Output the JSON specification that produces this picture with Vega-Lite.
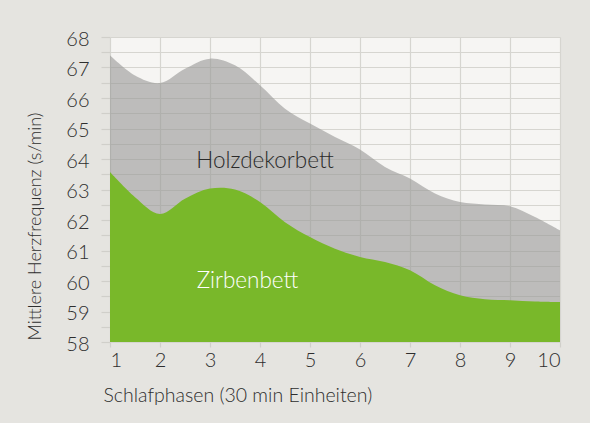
{
  "$schema": "https://vega.github.io/schema/vega-lite/v6.json",
  "autosize": {"type": "none"},
  "padding": {"left": 110, "top": 37, "right": 30, "bottom": 81},
  "width": 450,
  "height": 305,
  "background": "#e5e4e0",
  "config": {
    "view": {"fill": "#f6f5f3", "stroke": null},
    "font": "Lato",
    "axis": {
      "labelFont": "Lato", "labelFontWeight": 300, "labelColor": "#2e2e2e",
      "titleFont": "Lato", "titleFontWeight": 300, "titleColor": "#2e2e2e",
      "gridColor": "#d6d5d0", "gridOpacity": 1, "gridWidth": 1.2,
      "tickColor": "#d0cfca", "tickWidth": 1.2,
      "domain": false
    }
  },
  "datasets": {
    "hf": [
      {"phase": 1, "bett": "Holzdekorbett", "hf": 67.4},
      {"phase": 1.5, "bett": "Holzdekorbett", "hf": 66.74},
      {"phase": 2, "bett": "Holzdekorbett", "hf": 66.49},
      {"phase": 2.5, "bett": "Holzdekorbett", "hf": 66.96},
      {"phase": 3, "bett": "Holzdekorbett", "hf": 67.29},
      {"phase": 3.5, "bett": "Holzdekorbett", "hf": 67.07},
      {"phase": 4, "bett": "Holzdekorbett", "hf": 66.42},
      {"phase": 4.5, "bett": "Holzdekorbett", "hf": 65.65},
      {"phase": 5, "bett": "Holzdekorbett", "hf": 65.16},
      {"phase": 5.5, "bett": "Holzdekorbett", "hf": 64.72},
      {"phase": 6, "bett": "Holzdekorbett", "hf": 64.31},
      {"phase": 6.5, "bett": "Holzdekorbett", "hf": 63.74},
      {"phase": 7, "bett": "Holzdekorbett", "hf": 63.36},
      {"phase": 7.5, "bett": "Holzdekorbett", "hf": 62.87},
      {"phase": 8, "bett": "Holzdekorbett", "hf": 62.59},
      {"phase": 8.5, "bett": "Holzdekorbett", "hf": 62.51},
      {"phase": 9, "bett": "Holzdekorbett", "hf": 62.45},
      {"phase": 9.5, "bett": "Holzdekorbett", "hf": 62.1},
      {"phase": 10, "bett": "Holzdekorbett", "hf": 61.66},
      {"phase": 1, "bett": "Zirbenbett", "hf": 63.57},
      {"phase": 1.5, "bett": "Zirbenbett", "hf": 62.75},
      {"phase": 2, "bett": "Zirbenbett", "hf": 62.2},
      {"phase": 2.5, "bett": "Zirbenbett", "hf": 62.7},
      {"phase": 3, "bett": "Zirbenbett", "hf": 63.03},
      {"phase": 3.5, "bett": "Zirbenbett", "hf": 63.0},
      {"phase": 4, "bett": "Zirbenbett", "hf": 62.59},
      {"phase": 4.5, "bett": "Zirbenbett", "hf": 61.93},
      {"phase": 5, "bett": "Zirbenbett", "hf": 61.44},
      {"phase": 5.5, "bett": "Zirbenbett", "hf": 61.06},
      {"phase": 6, "bett": "Zirbenbett", "hf": 60.79},
      {"phase": 6.5, "bett": "Zirbenbett", "hf": 60.62},
      {"phase": 7, "bett": "Zirbenbett", "hf": 60.35},
      {"phase": 7.5, "bett": "Zirbenbett", "hf": 59.86},
      {"phase": 8, "bett": "Zirbenbett", "hf": 59.53},
      {"phase": 8.5, "bett": "Zirbenbett", "hf": 59.4},
      {"phase": 9, "bett": "Zirbenbett", "hf": 59.37},
      {"phase": 9.5, "bett": "Zirbenbett", "hf": 59.33},
      {"phase": 10, "bett": "Zirbenbett", "hf": 59.31}
    ],
    "labels": [
      {"phase": 4.1, "hf": 63.92, "name": "Holzdekorbett", "kind": "dark"},
      {"phase": 3.75, "hf": 59.99, "name": "Zirbenbett", "kind": "light"}
    ]
  },
  "encoding": {
    "x": {
      "field": "phase", "type": "quantitative",
      "scale": {"domain": [1, 10], "nice": false},
      "axis": {
        "values": [1, 2, 3, 4, 5, 6, 7, 8, 9, 10],
        "title": "Schlafphasen (30 min Einheiten)",
        "labelFontSize": 20, "labelPadding": 3, "tickSize": 5,
        "titleFontSize": 19.5, "titleAnchor": "start", "titleAlign": "left",
        "titleX": -7, "titleY": 59, "titleBaseline": "alphabetic"
      }
    },
    "y": {
      "field": "hf", "type": "quantitative",
      "scale": {"domain": [58, 68], "nice": false, "zero": false},
      "axis": {
        "values": [58, 58.5, 59, 59.5, 60, 60.5, 61, 61.5, 62, 62.5, 63, 63.5, 64, 64.5, 65, 65.5, 66, 66.5, 67, 67.5, 68],
        "labelExpr": "datum.value % 1 == 0 ? format(datum.value, 'd') : ''",
        "title": "Mittlere Herzfrequenz (s/min)",
        "labelFontSize": 20, "labelPadding": 12, "tickSize": 9, "labelOffset": 2,
        "titleFontSize": 18, "titleX": -75, "titleY": 189,
        "titleAlign": "center", "titleBaseline": "middle", "titleAngle": -90
      }
    }
  },
  "layer": [
    {
      "data": {"name": "hf"},
      "transform": [{"filter": "datum.bett == 'Holzdekorbett'"}],
      "mark": {"type": "area", "interpolate": "catmull-rom", "color": "#9a9a98", "opacity": 0.62, "clip": true},
      "encoding": {"y2": {"datum": 58}}
    },
    {
      "data": {"name": "hf"},
      "transform": [{"filter": "datum.bett == 'Zirbenbett'"}],
      "mark": {"type": "area", "interpolate": "catmull-rom", "color": "#79b82a", "opacity": 1, "clip": true},
      "encoding": {"y2": {"datum": 58}}
    },
    {
      "data": {"name": "labels"},
      "mark": {"type": "text", "font": "Lato", "fontWeight": 300, "fontSize": 22.5, "align": "center", "baseline": "middle"},
      "encoding": {
        "text": {"field": "name"},
        "color": {"field": "kind", "type": "nominal", "scale": {"domain": ["dark", "light"], "range": ["#2a2a2a", "#ffffff"]}, "legend": null}
      }
    }
  ]
}
